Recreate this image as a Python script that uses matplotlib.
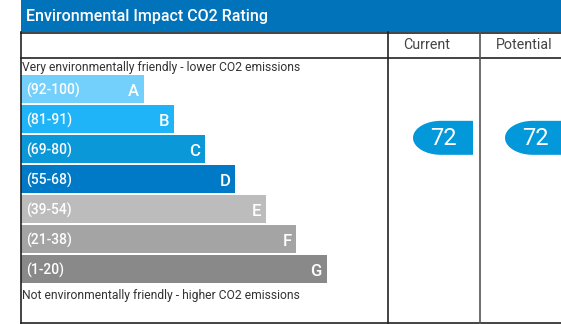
import matplotlib
matplotlib.use("Agg")
import matplotlib.pyplot as plt
from matplotlib.patches import Rectangle, Polygon
import numpy as np

plt.rcParams['font.family'] = ['Roboto', 'DejaVu Sans']

# data
bands = ["A", "B", "C", "D", "E", "F", "G"]
ranges = ["(92-100)", "(81-91)", "(69-80)", "(55-68)", "(39-54)", "(21-38)", "(1-20)"]
band_colors = ["#73cffc", "#1fb4f7", "#0a98d8", "#0079c6", "#bcbcbc", "#a4a4a4", "#898989"]
current = 72
potential = 72
title = "Environmental Impact CO2 Rating"
top_note = "Very environmentally friendly - lower CO2 emissions"
bottom_note = "Not environmentally friendly - higher CO2 emissions"

W, H = 561, 324
fig = plt.figure(figsize=(W / 100, H / 100), dpi=100)
ax = fig.add_axes([0, 0, 1, 1])
ax.set_xlim(0, W)
ax.set_ylim(H, 0)
ax.axis("off")

# header band
ax.add_patch(Rectangle((21, 0), W - 21, 32, color="#0173ba", lw=0))
ax.text(26, 17, title, color="white", fontsize=11.5, va="center", ha="left", fontweight="medium")

# table lines
lc = "#222222"
ax.plot([21, 21], [32, 323], color=lc, lw=1.2)
ax.plot([21, W], [323, 323], color=lc, lw=1.2)
ax.plot([21, W], [32.5, 32.5], color=lc, lw=1.2)
ax.plot([21, W], [57.5, 57.5], color=lc, lw=1.2)
ax.plot([388.5, 388.5], [32, 323], color=lc, lw=1.2)
ax.plot([480.5, 480.5], [32, 323], color="#555555", lw=1.2)
ax.text(427, 45, "Current", color="#444444", fontsize=10.3, ha="center", va="center")
ax.text(524, 45, "Potential", color="#444444", fontsize=10.3, ha="center", va="center")

ax.text(22, 68, top_note, color="#333333", fontsize=8.7, va="center", ha="left")
ax.text(22, 295, bottom_note, color="#333333", fontsize=8.7, va="center", ha="left")

# bars
y0, pitch, bh = 75, 30, 28
lengths = 123 + 30.5 * np.arange(len(bands))
ys = y0 + pitch * np.arange(len(bands))
ax.barh(ys, lengths, height=bh, left=21, color=band_colors, align="edge")
for y, L, r, b in zip(ys, lengths, ranges, bands):
    ax.text(26, y + 15, r, color="white", fontsize=10, va="center", ha="left", fontweight="medium")
    ax.text(21 + L - 5, y + 17, b, color="white", fontsize=12, va="center", ha="right", fontweight="medium")


def marker(x_left, x_right, value):
    # vertical position mapped from the rating scale
    yc = y0 + (100 - value) / 99 * (ys[-1] + bh - y0) + 4
    h = 34
    rx = 28
    t = np.linspace(np.pi / 2, 3 * np.pi / 2, 40)
    xs = x_left + rx + rx * np.cos(t)
    yy = yc + h / 2 * np.sin(t)
    pts = list(zip(xs, yy)) + [(x_right, yc - h / 2), (x_right, yc + h / 2)]
    ax.add_patch(Polygon(pts, closed=True, color="#0298da", lw=0, joinstyle="round"))
    ax.text((x_left + x_right) / 2, yc + 1, str(value), color="white", fontsize=17, ha="center", va="center")


marker(413, 473, current)
marker(505, 565, potential)

fig.savefig("out.png", dpi=100)
